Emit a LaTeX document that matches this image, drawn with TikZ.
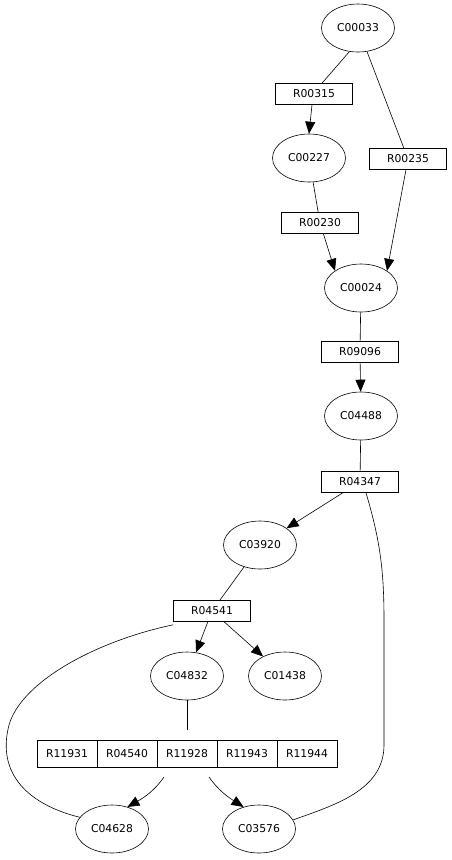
\documentclass[tikz,border=0pt]{standalone}
\usepackage{fontspec}
\setmainfont{DejaVu Sans}
\usetikzlibrary{shapes.geometric, arrows.meta}

\begin{document}
\begin{tikzpicture}[x=1pt,y=-1pt,line width=0.6pt,
     >={Triangle[length=12pt,width=10pt]},
     cpd/.style={draw,ellipse,minimum width=73pt,minimum height=48pt,inner sep=0pt,font=\fontsize{10.8}{12}\selectfont},
     rxn/.style={draw,rectangle,minimum width=77pt,minimum height=21pt,inner sep=0pt,font=\fontsize{10.8}{12}\selectfont},
     cell/.style={draw,rectangle,minimum width=60pt,minimum height=27pt,inner sep=0pt,font=\fontsize{10.8}{12}\selectfont}]
     \useasboundingbox (0,0) rectangle (452,860);

     %化合物
     \node[cpd] (c00033) at (358,28) {C00033};
     \node[cpd] (c00227) at (309,158) {C00227};
     \node[cpd] (c00024) at (361,288) {C00024};
     \node[cpd] (c04488) at (361,416) {C04488};
     \node[cpd] (c03920) at (260,545) {C03920};
     \node[cpd] (c04832) at (187,676) {C04832};
     \node[cpd] (c01438) at (285,676) {C01438};
     \node[cpd] (c04628) at (112,829) {C04628};
     \node[cpd] (c03576) at (259,829) {C03576};

     %反応
     \node[rxn] (r00315) at (314,94) {R00315};
     \node[rxn] (r00235) at (408,159) {R00235};
     \node[rxn] (r00230) at (320,223) {R00230};
     \node[rxn] (r09096) at (360,352) {R09096};
     \node[rxn] (r04347) at (360,482) {R04347};
     \node[rxn] (r04541) at (212,611) {R04541};
     \node[cell] (r11931) at (67,753.5) {R11931};
     \node[cell] (r04540) at (127,753.5) {R04540};
     \node[cell] (r11928) at (187,753.5) {R11928};
     \node[cell] (r11943) at (247,753.5) {R11943};
     \node[cell] (r11944) at (307,753.5) {R11944};
     \coordinate (in) at (187,730);
     \coordinate (outl) at (164,777);
     \coordinate (outr) at (209,777);

     \draw (c00033.250)--([xshift=8]r00315.north);
     \draw[->] ([xshift=-2]r00315.south)--(c00227.north);
     \draw (c00033)--(r00235);
     \draw (c00227)--(r00230);
     \draw[->] (r00230)--(c00024.north west);
     \draw[->] (r00235)--(c00024.north east);
     \draw (c00024)--(r09096);
     \draw[->] (r09096)--(c04488);
     \draw (c04488)--(r04347);
     \draw[->] (r04347)--(c03920);
     \draw (r04347.south)++(6,0) .. controls (380,540) and (384,570) .. (384,620)
          -- (384,745) .. controls (384,790) and (335,805) .. (c03576.15);
     \draw (c03920)--(r04541);
     \draw[->] (r04541)--(c04832);
     \draw[->] (r04541)--(c01438);
     \draw (r04541.south west)++(0,3) .. controls (100,640) and (22,680) .. (9,725)
          .. controls (-4,775) and (30,805) .. (c04628.160);
     \draw (c04832)--(in);
     \draw[->] (outl) .. controls (155,790) and (145,797) .. (c04628.55);
     \draw[->] (outr) .. controls (218,790) and (228,797) .. (c03576.125);
\end{tikzpicture}
\end{document}
